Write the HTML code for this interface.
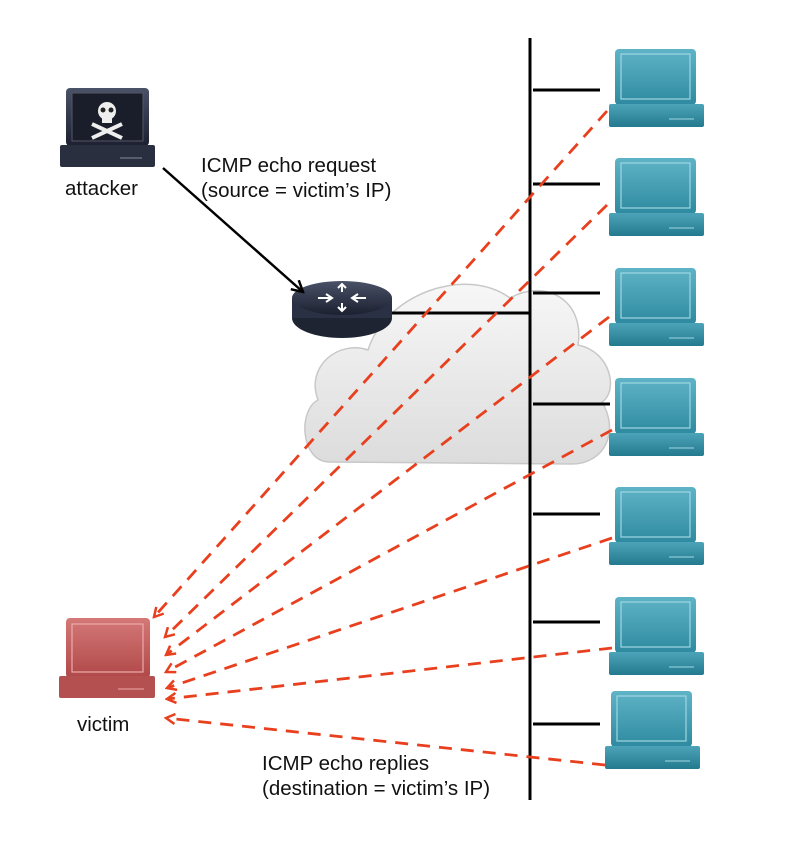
<!DOCTYPE html>
<html><head><style>
html,body{margin:0;padding:0;background:#fff;}
svg{display:block;}
text{font-family:"Liberation Sans",sans-serif;fill:#111;}
</style></head><body>
<svg width="811" height="845" viewBox="0 0 811 845" xmlns="http://www.w3.org/2000/svg">
<defs>
<linearGradient id="teal" x1="0" y1="0" x2="0" y2="1"><stop offset="0" stop-color="#5fb3c6"/><stop offset="1" stop-color="#2e8aa0"/></linearGradient>
<linearGradient id="tealb" x1="0" y1="0" x2="0" y2="1"><stop offset="0" stop-color="#4da3b8"/><stop offset="1" stop-color="#23798e"/></linearGradient>
<linearGradient id="red" x1="0" y1="0" x2="0" y2="1"><stop offset="0" stop-color="#d47878"/><stop offset="1" stop-color="#b04848"/></linearGradient>
<linearGradient id="dark" x1="0" y1="0" x2="0" y2="1"><stop offset="0" stop-color="#4a5268"/><stop offset="1" stop-color="#1c2030"/></linearGradient>
<linearGradient id="cloud" x1="0" y1="0" x2="0" y2="1"><stop offset="0" stop-color="#f7f7f7"/><stop offset="1" stop-color="#dcdcdc"/></linearGradient>
<marker id="ar" markerWidth="12" markerHeight="12" refX="10" refY="6" orient="auto" markerUnits="userSpaceOnUse"><path d="M1,1 L10,6 L1,11" fill="none" stroke="#e8401e" stroke-width="2.5"/></marker>
<marker id="ab" markerWidth="14" markerHeight="14" refX="12" refY="7" orient="auto" markerUnits="userSpaceOnUse"><path d="M1,1 L12,7 L1,13" fill="none" stroke="#000" stroke-width="2.5"/></marker>
<g id="lap">
<rect x="6" y="0" width="81" height="56" rx="4" fill="url(#teal)"/>
<rect x="12" y="5" width="69" height="45" fill="none" stroke="#9fd6e2" stroke-width="1.2"/>
<rect x="0" y="55" width="95" height="23" rx="2" fill="url(#tealb)"/>
<line x1="60" y1="70" x2="85" y2="70" stroke="#9fd6e2" stroke-width="1"/>
</g>
</defs>

<!-- cloud -->
<path d="M330,462 C300,462 298,410 318,400 C305,365 340,340 368,350 C385,295 465,265 510,298 C545,278 585,300 578,345 C612,352 618,392 602,402 C620,432 604,464 572,464 Z" fill="url(#cloud)" stroke="#c8c8c8" stroke-width="1.5"/>

<!-- bus -->
<line x1="530" y1="38" x2="530" y2="800" stroke="#000" stroke-width="3"/>
<g stroke="#000" stroke-width="3">
<line x1="533" y1="90" x2="600" y2="90"/>
<line x1="533" y1="184" x2="600" y2="184"/>
<line x1="533" y1="293" x2="600" y2="293"/>
<line x1="533" y1="404" x2="610" y2="404"/>
<line x1="533" y1="514" x2="600" y2="514"/>
<line x1="533" y1="622" x2="600" y2="622"/>
<line x1="533" y1="724" x2="600" y2="724"/>
<line x1="385" y1="313" x2="530" y2="313"/>
</g>

<!-- laptops -->
<use href="#lap" x="609" y="49"/>
<use href="#lap" x="609" y="158"/>
<use href="#lap" x="609" y="268"/>
<use href="#lap" x="609" y="378"/>
<use href="#lap" x="609" y="487"/>
<use href="#lap" x="609" y="597"/>
<use href="#lap" x="605" y="691"/>

<!-- router -->
<ellipse cx="342" cy="318" rx="50" ry="20" fill="#1f2433"/>
<rect x="292" y="298" width="100" height="20" fill="#2b3145"/>
<ellipse cx="342" cy="298" rx="50" ry="17" fill="url(#dark)"/>
<g stroke="#fff" stroke-width="2" fill="none"><path d="M318,298 h14 M326,294 l6,4 -6,4 M366,298 h-14 M358,294 l-6,4 6,4 M342,284 v8 M338,288 l4,-4 4,4 M342,311 v-8 M338,307 l4,4 4,-4"/></g>

<!-- attacker -->
<rect x="66" y="88" width="83" height="58" rx="4" fill="url(#dark)"/>
<rect x="72" y="93" width="71" height="48" fill="#1a1e2a" stroke="#556" stroke-width="1"/>
<rect x="60" y="145" width="95" height="22" rx="2" fill="#2a2f40"/>
<line x1="120" y1="158" x2="142" y2="158" stroke="#889" stroke-width="1"/>
<circle cx="107" cy="111" r="9" fill="#eee"/><rect x="102" y="116" width="10" height="7" fill="#eee"/>
<circle cx="103" cy="110" r="2.5" fill="#222"/><circle cx="111" cy="110" r="2.5" fill="#222"/>
<path d="M92,124 L122,138 M122,124 L92,138" stroke="#eee" stroke-width="4"/>

<!-- victim -->
<rect x="66" y="618" width="84" height="60" rx="4" fill="url(#red)"/>
<rect x="72" y="624" width="71" height="48" fill="none" stroke="#eaa" stroke-width="1.2"/>
<rect x="59" y="676" width="96" height="22" rx="2" fill="#b55050"/>
<line x1="118" y1="689" x2="144" y2="689" stroke="#eaa" stroke-width="1"/>

<!-- attacker arrow -->
<line x1="163" y1="168" x2="303" y2="292" stroke="#000" stroke-width="2.5" marker-end="url(#ab)"/>

<!-- red dashed -->
<g stroke="#e8401e" stroke-width="2.8" stroke-dasharray="13,9" fill="none" marker-end="url(#ar)">
<line x1="607" y1="111" x2="154" y2="617"/>
<line x1="607" y1="205" x2="165" y2="637"/>
<line x1="609" y1="317" x2="166" y2="655"/>
<line x1="612" y1="430" x2="166" y2="672"/>
<line x1="612" y1="538" x2="167" y2="688"/>
<line x1="612" y1="648" x2="167" y2="699"/>
<line x1="605" y1="765" x2="166" y2="718"/>
</g>

<!-- labels -->
<text x="65" y="195" font-size="20.5">attacker</text>
<text x="201" y="172" font-size="20.5">ICMP echo request</text>
<text x="201" y="197" font-size="20.5">(source = victim’s IP)</text>
<text x="77" y="731" font-size="20.5">victim</text>
<text x="262" y="770" font-size="20.5">ICMP echo replies</text>
<text x="262" y="795" font-size="20.5">(destination = victim’s IP)</text>
</svg>
</body></html>
